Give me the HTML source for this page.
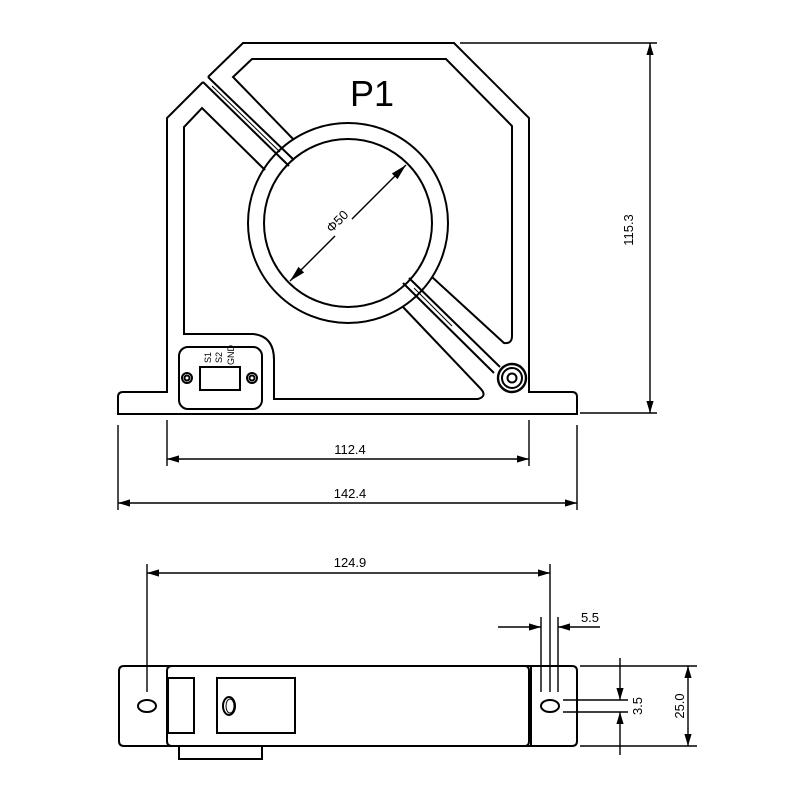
<!DOCTYPE html>
<html><head><meta charset="utf-8"><style>html,body{margin:0;padding:0;background:#fff}svg{display:block}</style></head>
<body>
<svg width="800" height="800" viewBox="0 0 800 800" xmlns="http://www.w3.org/2000/svg" font-family="Liberation Sans, sans-serif">
<defs>
<marker id="a" viewBox="0 0 10 10" refX="10" refY="5" markerWidth="12" markerHeight="9" orient="auto-start-reverse" markerUnits="userSpaceOnUse" preserveAspectRatio="none"><path d="M0,1 L10,5 L0,9 Z" fill="#000"/></marker>
<marker id="b" viewBox="0 0 16 10" refX="16" refY="5" markerWidth="16" markerHeight="10" orient="auto-start-reverse" markerUnits="userSpaceOnUse"><path d="M0,1 L16,5 L0,9 Z" fill="#000"/></marker>
</defs>
<g fill="none" stroke="#000" stroke-width="2">
<path d="M208,77 L243,43 L454,43 L529,118 L529,392 L572,392 Q577,392 577,397 L577,414 L118,414 L118,397 Q118,392 123,392 L167,392 L167,118 L203,82"/>
<path d="M208,77 L294,160 M203,82 L289,166"/>
<path d="M212,86 L280,152" stroke-width="1"/>
<circle cx="348" cy="223" r="100"/>
<circle cx="348" cy="223" r="84"/>
<path d="M294,140 L233,77 L252,59 L446,59 L512,126 L512,336 Q512,344 504,343 L432,277"/>
<path d="M265,170 L202,108 L184,127 L184,334 L253,334 Q274,336 274,360 L274,399 L478,399 Q488,396 480,388 L403,307"/>
<path d="M409,278 L500,367 M403,283 L494,373"/>
<path d="M414,288 L452,326" stroke-width="1"/>
<circle cx="512" cy="378" r="14" stroke-width="2.4"/>
<circle cx="512" cy="378" r="10"/>
<circle cx="512" cy="378" r="4.5"/>
<rect x="179" y="347" width="83" height="62" rx="9"/>
<rect x="200" y="367" width="40" height="23"/>
<circle cx="187" cy="378" r="5"/><circle cx="187" cy="378" r="2.5"/>
<circle cx="252" cy="378" r="5"/><circle cx="252" cy="378" r="2.5"/>
</g>
<g font-size="9" fill="#000">
<text transform="translate(211,363) rotate(-90)">S1</text>
<text transform="translate(222,363) rotate(-90)">S2</text>
<text transform="translate(234,365) rotate(-90)">GND</text>
</g>
<text x="372" y="106" font-size="36" text-anchor="middle">P1</text>
<g stroke="#000" stroke-width="1.4" fill="none">
<line x1="290" y1="281" x2="406" y2="165" marker-start="url(#b)" marker-end="url(#b)"/>
</g>
<rect x="326" y="206" width="24" height="32" fill="#fff" transform="rotate(-45 338 222)"/>
<text transform="translate(338,222) rotate(-45)" font-size="13" text-anchor="middle" dominant-baseline="middle">Φ50</text>
<g stroke="#000" stroke-width="1.4" fill="none">
<line x1="460" y1="43" x2="657" y2="43"/>
<line x1="580" y1="413" x2="657" y2="413"/>
<line x1="650" y1="43" x2="650" y2="413" marker-start="url(#a)" marker-end="url(#a)"/>
<line x1="167" y1="420" x2="167" y2="466"/>
<line x1="529" y1="420" x2="529" y2="466"/>
<line x1="167" y1="459" x2="529" y2="459" marker-start="url(#a)" marker-end="url(#a)"/>
<line x1="118" y1="425" x2="118" y2="510"/>
<line x1="577" y1="425" x2="577" y2="510"/>
<line x1="118" y1="503" x2="577" y2="503" marker-start="url(#a)" marker-end="url(#a)"/>
</g>
<g font-size="13" fill="#000" text-anchor="middle">
<text transform="translate(633,230) rotate(-90)">115.3</text>
<text x="350" y="454">112.4</text>
<text x="350" y="498">142.4</text>
<text x="350" y="567">124.9</text>
<text x="590" y="622">5.5</text>
</g>
<text transform="translate(642,706) rotate(-90)" font-size="13" text-anchor="middle">3.5</text>
<text transform="translate(684,706) rotate(-90)" font-size="13" text-anchor="middle">25.0</text>
<g fill="none" stroke="#000" stroke-width="2">
<path d="M124,666 L572,666 Q577,666 577,671 L577,741 Q577,746 572,746 L124,746 Q119,746 119,741 L119,671 Q119,666 124,666 Z"/>
<path d="M172,666 Q167,666 167,671 L167,741 Q167,746 172,746"/>
<path d="M525,666 Q529,666 529,671 L529,741 Q529,746 525,746"/>
<line x1="531" y1="667" x2="531" y2="745"/>
<rect x="168" y="678" width="26" height="55"/>
<rect x="217" y="678" width="78" height="55"/>
<ellipse cx="229" cy="706" rx="6" ry="9"/>
<ellipse cx="230" cy="706" rx="4" ry="7" stroke-width="1"/>
<path d="M179,746 L179,759 L262,759 L262,746"/>
<ellipse cx="147" cy="706" rx="9" ry="6"/>
<ellipse cx="550" cy="706" rx="9" ry="6"/>
</g>
<g stroke="#000" stroke-width="1.4" fill="none">
<line x1="147" y1="564" x2="147" y2="692"/>
<line x1="550" y1="564" x2="550" y2="692"/>
<line x1="147" y1="573" x2="550" y2="573" marker-start="url(#a)" marker-end="url(#a)"/>
<line x1="541" y1="617" x2="541" y2="692"/>
<line x1="558" y1="617" x2="558" y2="692"/>
<line x1="498" y1="627" x2="541" y2="627" marker-end="url(#a)"/>
<line x1="600" y1="627" x2="558" y2="627" marker-end="url(#a)"/>
<line x1="563" y1="700" x2="628" y2="700"/>
<line x1="563" y1="712" x2="628" y2="712"/>
<line x1="620" y1="658" x2="620" y2="700" marker-end="url(#a)"/>
<line x1="620" y1="755" x2="620" y2="712" marker-end="url(#a)"/>
<line x1="580" y1="666" x2="697" y2="666"/>
<line x1="580" y1="746" x2="697" y2="746"/>
<line x1="688" y1="666" x2="688" y2="746" marker-start="url(#a)" marker-end="url(#a)"/>
</g>
</svg>
</body></html>
